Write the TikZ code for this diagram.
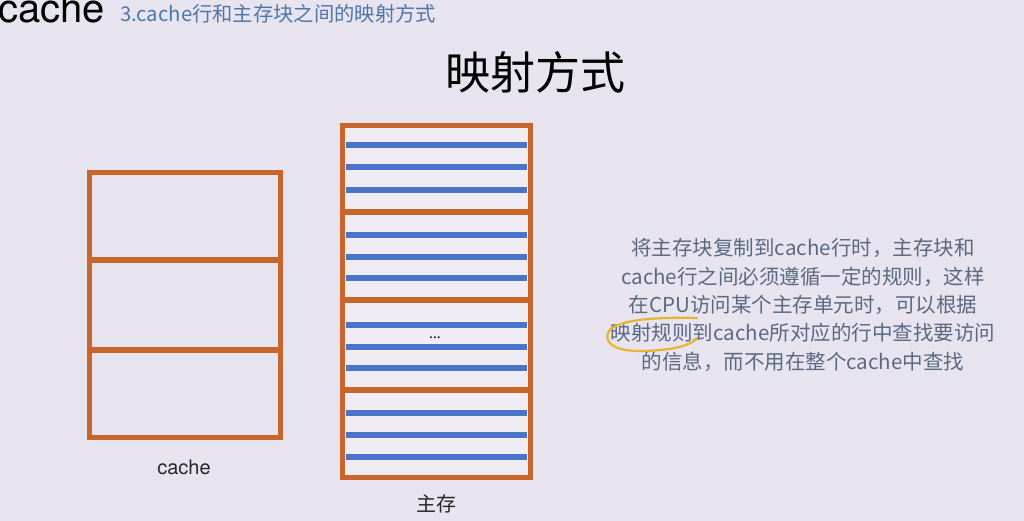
\documentclass[tikz,border=0pt]{standalone}
\usepackage{fontspec}
\setmainfont{Noto Sans CJK SC}
\newfontfamily\helv{TeX Gyre Heros}
\definecolor{bgc}{HTML}{E8E4EF}
\definecolor{inner}{HTML}{EFECF4}
\definecolor{org}{HTML}{C8652A}
\definecolor{blu}{HTML}{4A74C8}
\definecolor{subc}{HTML}{4F76A8}
\definecolor{parc}{HTML}{5A6982}
\definecolor{yel}{HTML}{E6B52E}
\begin{document}
\begin{tikzpicture}[x=1pt,y=-1pt,
  boxframe/.style={draw=org, line width=5.5pt, inner sep=0pt, outer sep=0pt},
  divider/.style={draw=org, line width=5.5pt},
  stripe/.style={draw=blu, line width=5.5pt},
  lbl/.style={font=\helv\fontsize{20}{22}\selectfont, text=black!85}]
\fill[bgc] (0,0) rectangle (1024,521);
\useasboundingbox (0,0) rectangle (1024,521);
% header
\node[anchor=base west, inner sep=0pt, font=\helv\fontsize{40}{40}\selectfont, text=black] (hdr) at (-2,23) {cache};
\node[anchor=base west, inner sep=0pt, font=\fontsize{20.3}{22}\selectfont, text=subc] (sub) at (120,22) {3.cache行和主存块之间的映射方式};
\node[font=\fontsize{45}{48}\selectfont, text=black] (title) at (535,72) {映射方式};
% cache box
\node[boxframe, minimum width=191pt, minimum height=265pt] (cache) at (185,305) {};
\coordinate (c1l) at (89.5,260); \coordinate (c1r) at (280.5,260);
\coordinate (c2l) at (89.5,350); \coordinate (c2r) at (280.5,350);
\draw[divider] (c1l) -- (c1r);
\draw[divider] (c2l) -- (c2r);
\node[lbl] (cachelbl) at (184,467) {cache};
% main memory box
\node[boxframe, fill=inner, minimum width=188pt, minimum height=352pt] (mem) at (436.5,301.5) {};
\foreach \y in {145,167,190,235,257,278,325,347,368,413,435,457}{
  \coordinate (sl) at (346,\y); \coordinate (sr) at (527,\y);
  \draw[stripe] (sl) -- (sr);
}
\foreach \y in {212,300,390}{
  \coordinate (dl) at (342.5,\y); \coordinate (dr) at (530.5,\y);
  \draw[divider] (dl) -- (dr);
}
\node[font=\fontsize{14}{14}\selectfont] (dots) at (435,338) {...};
\node[font=\fontsize{20}{22}\selectfont, text=black!85] (memlbl) at (436,504) {主存};
% paragraph
\node[align=center, text=parc, font=\fontsize{20.5}{28.3}\selectfont, inner sep=0pt] (para) at (803,305)
{将主存块复制到cache行时，主存块和\\cache行之间必须遵循一定的规则，这样\\在CPU访问某个主存单元时，可以根据\\映射规则到cache所对应的行中查找要访问\\的信息，而不用在整个cache中查找};
% highlight
\coordinate (h1) at (697,318);
\coordinate (h2) at (697,338);
\draw[yel, line width=2.2pt, line cap=round]
  (h1) .. controls (660,317) and (618,319) .. (609,331)
       .. controls (603,341) and (612,351) .. (640,351)
       .. controls (665,351) and (690,347) .. (h2);
\end{tikzpicture}
\end{document}
